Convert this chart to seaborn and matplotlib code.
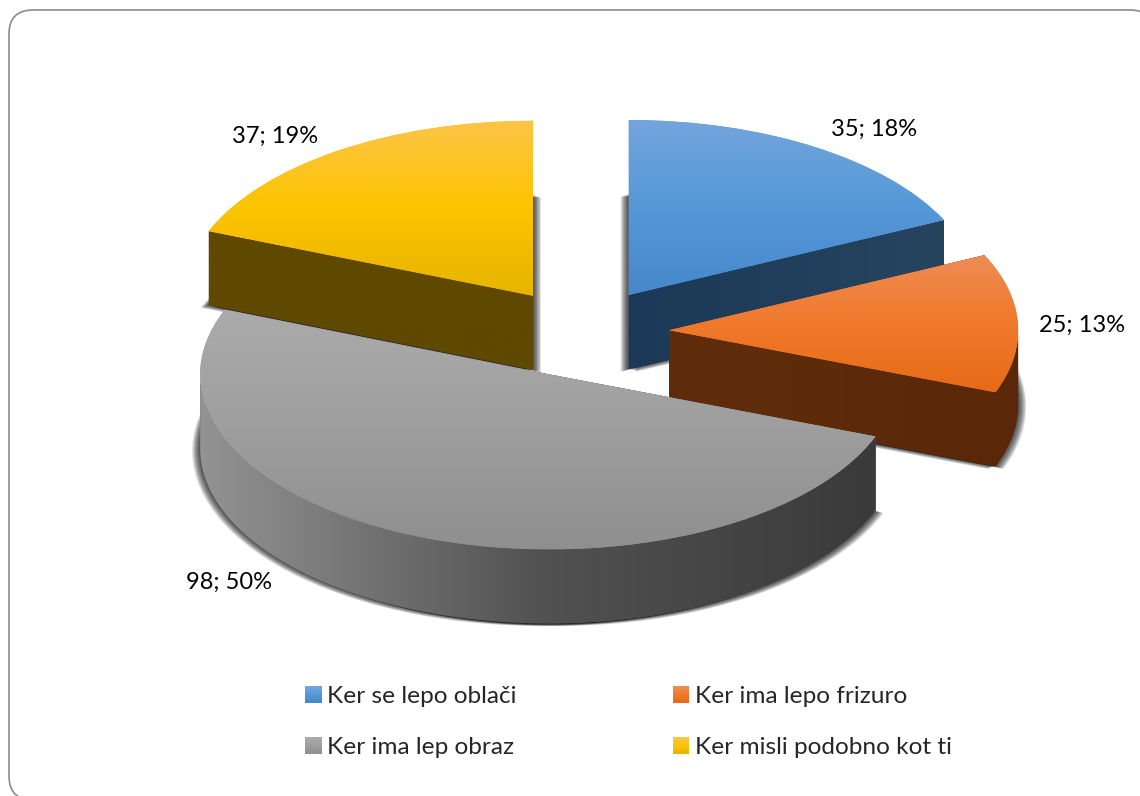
import numpy as np
import matplotlib
matplotlib.use('Agg')
import matplotlib.pyplot as plt
import seaborn as sns
from matplotlib.legend_handler import HandlerBase
from matplotlib.patches import FancyBboxPatch, Polygon, Rectangle, Wedge

categories = ['Ker se lepo oblači', 'Ker ima lepo frizuro', 'Ker ima lep obraz', 'Ker misli podobno kot ti']
values = [35, 25, 98, 37]
explode = [0.25, 0.25, 0.26, 0.25]
top_colors = [
    ['#73a5dc', '#5598d8', '#4688ca'],
    ['#ee8c56', '#f07a2b', '#e66a17'],
    ['#ababab', '#9e9e9e', '#8f8f8f'],
    ['#fdc548', '#fdc400', '#e6b400'],
]
side_colors = [
    ['#1b3a59', '#27445f'],
    ['#602d0c', '#5a2809'],
    ['#939393', '#525252', '#3a3a3a'],
    ['#5f4800', '#5f4800'],
]
# back slices first
draw_order = [0, 3, 1, 2]
# label centres in pixels from the top left of the picture
label_pos = [(874, 129), (1082, 325), (229, 582), (275, 136)]

W, H = 1140, 796
rx, ry = 349.0, 175.0
cx, cy = 582.0, 332.0
depth = 74.0 / ry

sns.set_theme(style='white')
plt.rcParams['font.family'] = ['Lato', 'DejaVu Sans']

fig = plt.figure(figsize=(W / 100, H / 100), dpi=100)
ax = fig.add_axes([0, 0, 1, 1])

# rounded frame runs off the right and bottom edge
# white face on purpose, agg squeezes the curves of unfilled paths at the canvas edge
frame = FancyBboxPatch((9, -4), 1145, 790, boxstyle='round,pad=0,rounding_size=24',
                       transform=None, fc='white', ec='#8c8c8c', lw=1.2, zorder=-1)
fig.add_artist(frame)

wedges, _ = ax.pie(values, explode=explode, startangle=90, counterclock=False,
                   radius=1, colors=[c[1] for c in top_colors])
ax.set_aspect('auto')


def side_pieces(w):
    # outline pieces of the slice wall: cut faces and the front of the rim
    x0, y0 = w.center
    pieces = []
    for th in (w.theta1, w.theta2):
        t = np.radians(th)
        if abs(np.cos(t)) > 1e-6:
            pieces.append((np.array([x0, x0 + np.cos(t)]), np.array([y0, y0 + np.sin(t)])))
    t = np.radians(np.linspace(w.theta1, w.theta2, 300))
    t = t[np.sin(t) <= 0]
    if len(t) > 1:
        pieces.append((x0 + np.cos(t), y0 + np.sin(t)))
    return pieces


for rank, i in enumerate(draw_order):
    w = wedges[i]
    z = 10 * (rank + 1)

    # soft shadow: shifted copies of the slice floor, spreads sideways more than down
    for step in range(1, 9):
        for sign in (-1, 1):
            ax.add_patch(Wedge((w.center[0] + sign * step / rx, w.center[1] - depth - step / 3 / ry), w.r,
                               w.theta1, w.theta2, fc=(0, 0, 0, 0.12), ec='none', zorder=z))

    # side walls, horizontal gradient clipped to each wall
    arc = np.cos(np.radians(np.linspace(w.theta1, w.theta2, 300)))
    xmin = w.center[0] + min(arc.min(), 0)
    xmax = w.center[0] + max(arc.max(), 0)
    cmap = sns.blend_palette(side_colors[i], n_colors=128, as_cmap=True)
    for xs, ys in side_pieces(w):
        outline = np.column_stack([np.r_[xs, xs[::-1]], np.r_[ys, ys[::-1] - depth]])
        wall = Polygon(outline, fc=cmap(0.5), ec='none', zorder=z + 1)
        ax.add_patch(wall)
        im = ax.imshow(np.linspace(0, 1, 256).reshape(1, -1), extent=(xmin, xmax, -3, 3), aspect='auto',
                       cmap=cmap, zorder=z + 1.5)
        im.set_clip_path(wall)

    # top face with vertical gradient
    box = w.get_path().get_extents()
    w.set_zorder(z + 2)
    w.set_edgecolor('none')
    grad = np.linspace(0, 1, 256).reshape(-1, 1)
    im = ax.imshow(grad, extent=(box.x0, box.x1, box.y0, box.y1), origin='upper', aspect='auto',
                   cmap=sns.blend_palette(top_colors[i], n_colors=128, as_cmap=True), zorder=z + 3)
    im.set_clip_path(w)

ax.set_xlim(-cx / rx, (W - cx) / rx)
ax.set_ylim(-(H - cy) / ry, cy / ry)
ax.axis('off')

total = sum(values)
for v, (px, py) in zip(values, label_pos):
    ax.annotate(f'{v}; {round(100 * v / total)}%', xy=(px, H - py), xycoords='figure pixels',
                ha='center', va='center', fontsize=17, color='black', zorder=100)


class GradientHandler(HandlerBase):
    def __init__(self, colors):
        super().__init__()
        self.colors = colors

    def create_artists(self, legend, orig_handle, xdescent, ydescent, width, height, fontsize, trans):
        pal = sns.blend_palette(self.colors, n_colors=12)
        h = height / len(pal)
        return [Rectangle((-xdescent, -ydescent + height - (k + 1) * h), width, h * 1.05, fc=c, ec='none',
                          transform=trans) for k, c in enumerate(pal)]


legend_order = [0, 2, 1, 3]
handles = [Rectangle((0, 0), 1, 1) for _ in legend_order]
leg = ax.legend(handles, [categories[i] for i in legend_order], ncol=2, frameon=False,
                loc='upper left', bbox_to_anchor=(305 / W, 1 - 686 / H), borderpad=0, borderaxespad=0,
                fontsize=17.6, handlelength=0.68, handleheight=0.68, handletextpad=0.22,
                labelspacing=1.24, columnspacing=6.39,
                handler_map={h: GradientHandler(top_colors[i]) for h, i in zip(handles, legend_order)})
leg.set_zorder(100)

fig.savefig('out.png', dpi=100)
